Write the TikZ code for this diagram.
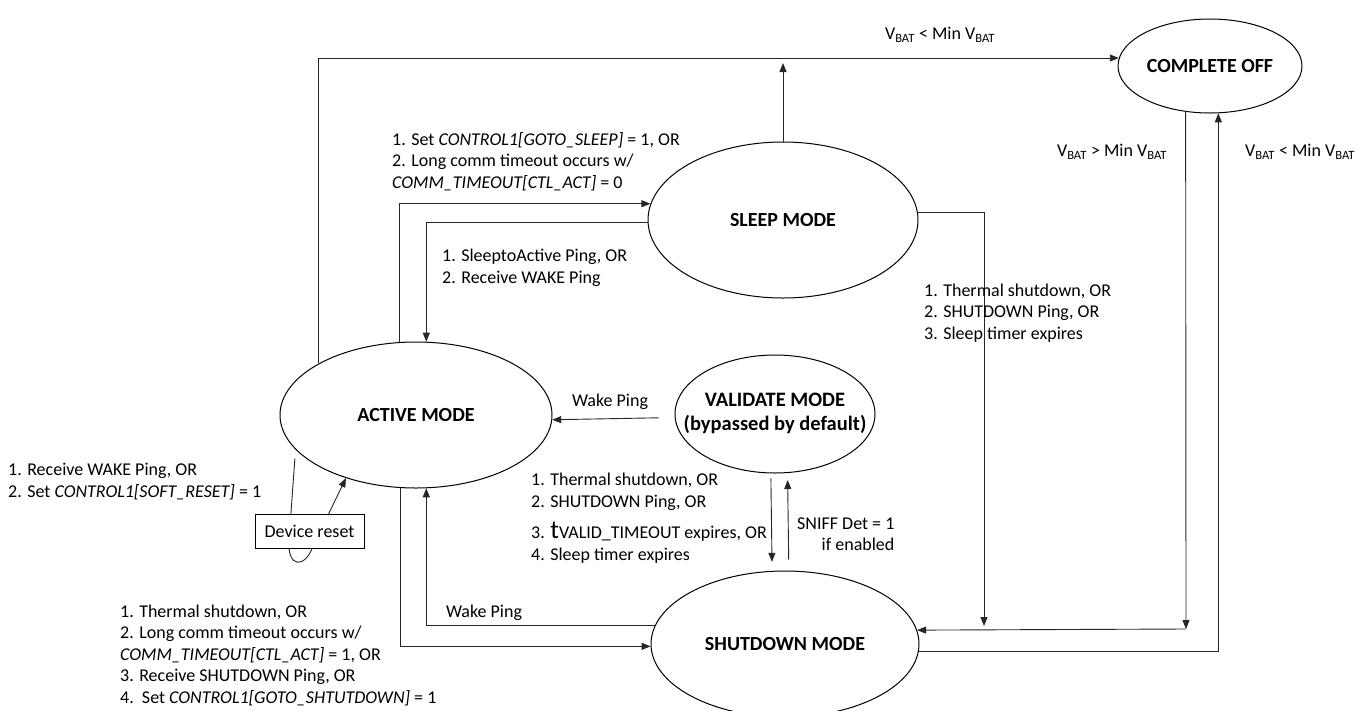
\documentclass[tikz,border=0pt]{standalone}
\usepackage{fontspec}
\setmainfont{Carlito}
\usetikzlibrary{arrows.meta,shapes.geometric}
\begin{document}
\begin{tikzpicture}[x=1pt,y=-1pt,
  state/.style={draw, line width=1pt, ellipse, inner sep=0pt, fill=white,
    font=\fontsize{20}{24}\selectfont\bfseries},
  lbl/.style={inner sep=0pt, font=\fontsize{18}{21.5}\selectfont, align=left},
  conn/.style={line width=0.9pt, draw=black!85},
  arr/.style={conn, -{Triangle[length=9pt,width=7pt]}}]
\useasboundingbox (0,0) rectangle (1369,710);

% states
\node[state, minimum width=272pt, minimum height=146pt] (active) at (416,415) {\makebox[0pt]{ACTIVE MODE}};
\node[state, minimum width=270pt, minimum height=156pt] (sleep) at (783,220) {\makebox[0pt]{SLEEP MODE}};
\node[state, minimum width=200pt, minimum height=118pt, font=\fontsize{20.5}{24}\selectfont\bfseries] (val) at (775,414) {\makebox[0pt]{\begin{tabular}{@{}c@{}}VALIDATE MODE\\(bypassed by default)\end{tabular}}};
\node[state, minimum width=268pt, minimum height=146pt] (shut) at (785,644) {\makebox[0pt]{SHUTDOWN MODE}};
\node[state, minimum width=184pt, minimum height=94pt] (off) at (1210,66) {\makebox[0pt]{COMPLETE OFF}};

% junction points
\coordinate (tj) at (783,63);
\coordinate (j1) at (984,626);
\coordinate (j2) at (1186,629);

% connectors
\draw[arr] (active.152.7) |- (off.175);
\draw[arr] (sleep.north) -- (tj);
\draw[arr] (active.103.2) |- (sleep.173.5);
\draw[arr] (sleep.181.3) -| (active.82.2);
\draw[arr] (sleep.3) -| (j1);
\draw[arr] (off.242) -- (j2);
\draw[arr] (j2) -- (shut.6.1);
\draw[arr] (shut.357) -| (off.280.9);
\draw[arr, shorten <=16pt] (val.182.3) -- (active.358.7);
\draw[arr, shorten <=5pt, shorten >=9pt] (val.266.1) -- (shut.100.9);
\draw[arr, shorten <=11pt, shorten >=7pt] (shut.87.6) -- (val.282.5);
\draw[arr] (active.258.3) |- (shut.181.3);
\draw[arr] (shut.172.1) -| (active.278.6);
\draw[arr, shorten <=9pt] (active.196) -- (289,540) .. controls (287,568) and (305,570) .. (314,544) -- (active.222.4);
\node[draw, line width=0.9pt, fill=white, minimum width=109pt, minimum height=34pt, inner sep=0pt,
  font=\fontsize{18}{21.5}\selectfont] (reset) at (309.5,531) {Device reset};

% labels
\node[lbl, anchor=west] (l1) at (392,161.5) {1. Set \textit{CONTROL1[GOTO\_SLEEP]} = 1, OR\\2. Long comm timeout occurs w/\\\textit{COMM\_TIMEOUT[CTL\_ACT]} = 0};
\node[lbl, anchor=west] (l2) at (442,268) {1. SleeptoActive Ping, OR\\2. Receive WAKE Ping};
\node[lbl, anchor=west] (l3) at (924,313) {1. Thermal shutdown, OR\\2. SHUTDOWN Ping, OR\\3. Sleep timer expires};
\node[lbl, anchor=base west] (l4) at (531,560) {1. Thermal shutdown, OR\\2. SHUTDOWN Ping, OR\\[10pt]3. {\fontsize{26}{26}\selectfont t}VALID\_TIMEOUT expires, OR\\4. Sleep timer expires};
\node[lbl, align=right, anchor=west] (l5) at (797,534) {SNIFF Det = 1\\if enabled};
\node[lbl, anchor=west] (l6) at (120,655) {1. Thermal shutdown, OR\\2. Long comm timeout occurs w/\\\textit{COMM\_TIMEOUT[CTL\_ACT]} = 1, OR\\3. Receive SHUTDOWN Ping, OR\\4.\ \ Set \textit{CONTROL1[GOTO\_SHTUTDOWN]} = 1};
\node[lbl, anchor=west] (l7) at (8,481.5) {1. Receive WAKE Ping, OR\\2. Set \textit{CONTROL1[SOFT\_RESET]} = 1};
\node[lbl] (w1) at (610,402) {Wake Ping};
\node[lbl] (w2) at (484,613) {Wake Ping};
\node[lbl] (v1) at (940,35) {V\textsubscript{BAT} < Min V\textsubscript{BAT}};
\node[lbl] (v2) at (1112,152) {V\textsubscript{BAT} > Min V\textsubscript{BAT}};
\node[lbl] (v3) at (1300,152) {V\textsubscript{BAT} < Min V\textsubscript{BAT}};
\end{tikzpicture}
\end{document}
